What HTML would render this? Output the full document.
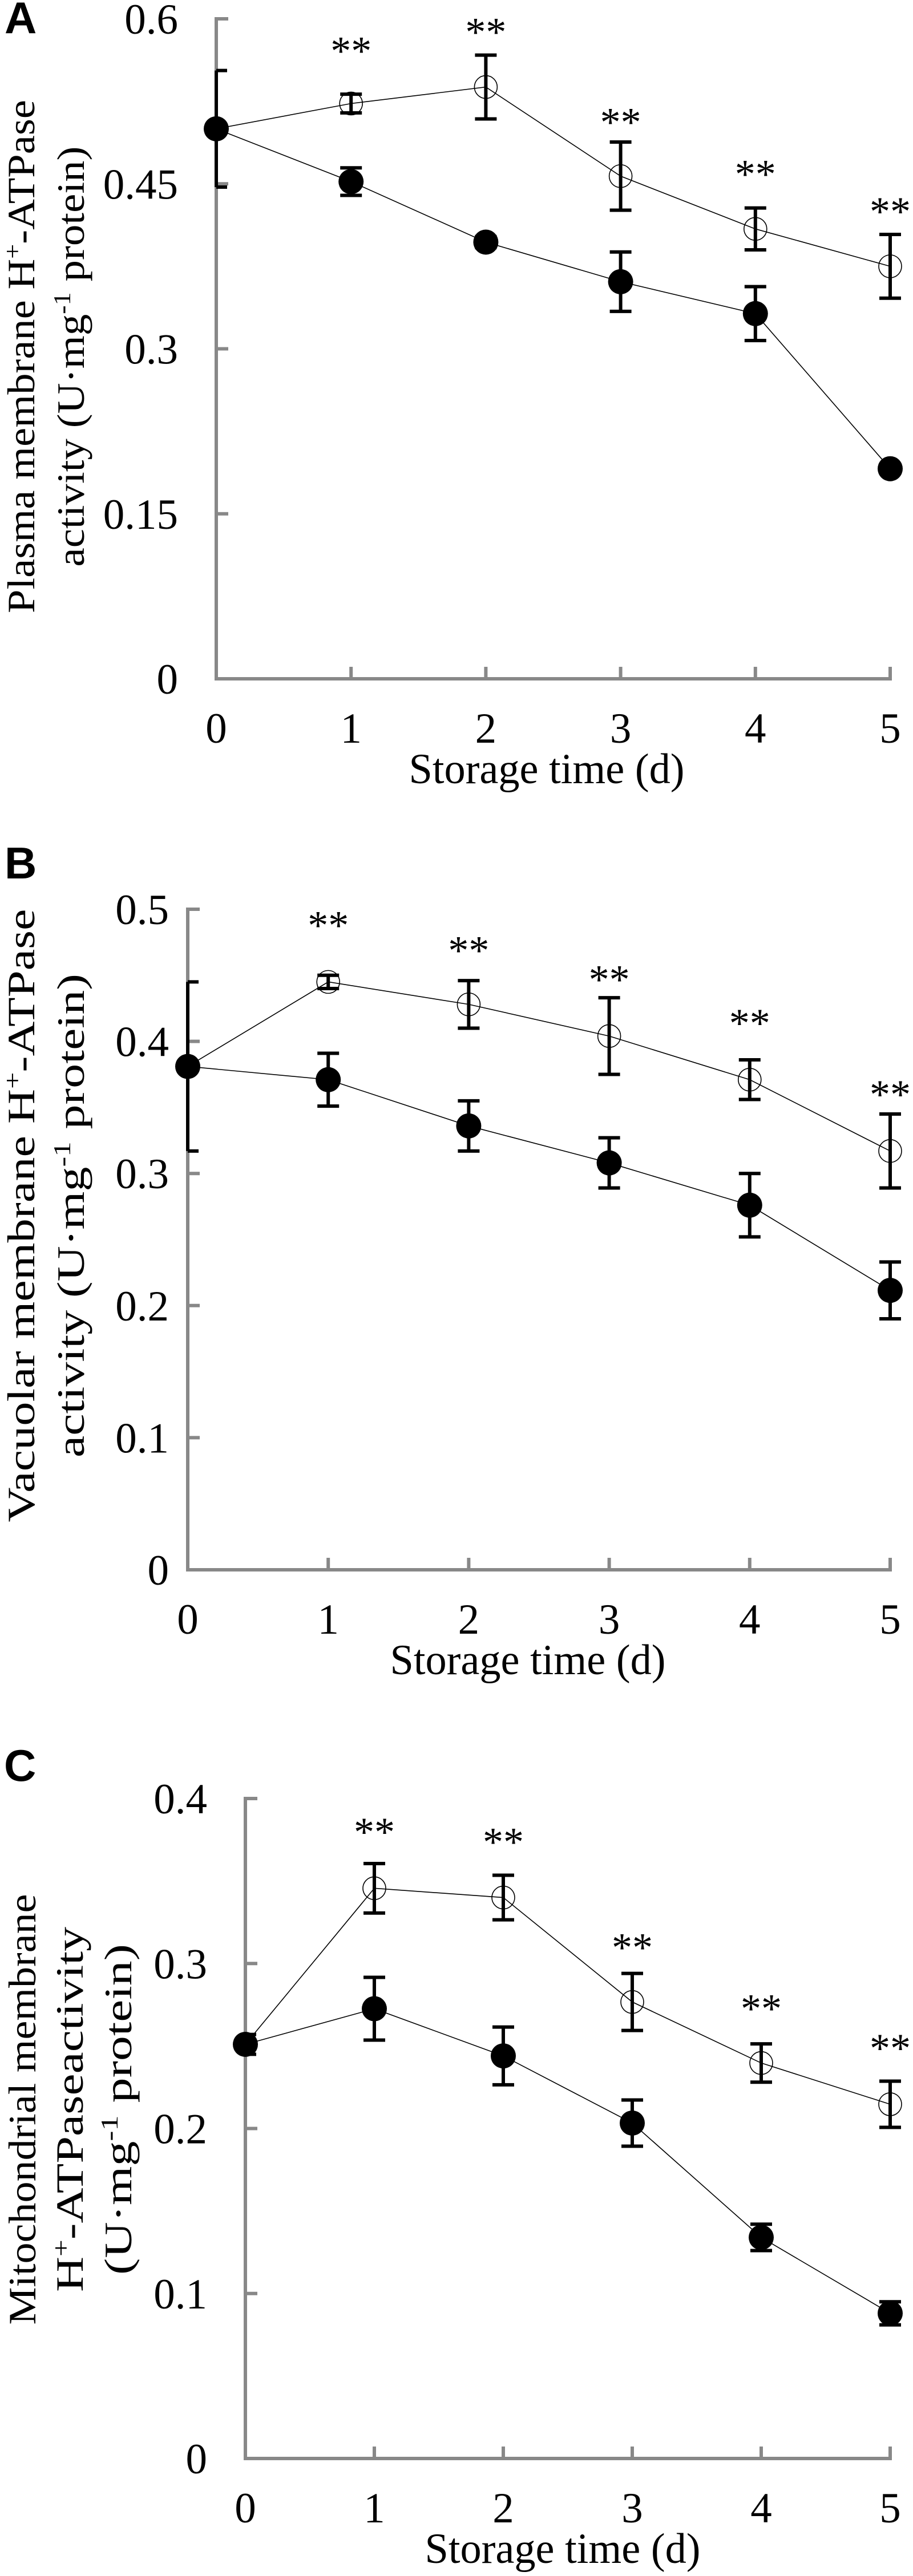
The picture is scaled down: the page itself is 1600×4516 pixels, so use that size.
<!DOCTYPE html>
<html><head><meta charset="utf-8"><style>
html,body{margin:0;padding:0;background:#fff}
svg{display:block}
text{font-family:"Liberation Serif","Times New Roman",serif;fill:#000}
.lab{font-family:"Liberation Sans",sans-serif;font-weight:bold}
</style></head><body>
<svg id="fig" width="1600" height="4516" viewBox="0 0 1600 4516"></svg>
<script>
const days = [0,1,2,3,4,5];
const xTickLabels = ["0","1","2","3","4","5"];

const aTicks = [0,0.15,0.3,0.45,0.6];
const aTickLabels = ["0","0.15","0.3","0.45","0.6"];
const aOpen = [0.5,0.523,0.538,0.457,0.409,0.375];
const aOpenErr = [0.053,0.0085,0.029,0.031,0.019,0.029];
const aFilled = [0.5,0.452,0.397,0.361,0.332,0.191];
const aFilledErr = [0,0.0125,0.005,0.027,0.0245,0.004];
const aStars = [null,0.576,0.593,0.511,0.464,0.430];

const bTicks = [0,0.1,0.2,0.3,0.4,0.5];
const bTickLabels = ["0","0.1","0.2","0.3","0.4","0.5"];
const bOpen = [0.381,0.445,0.428,0.404,0.371,0.317];
const bOpenErr = [0.064,0.005,0.018,0.029,0.015,0.028];
const bFilled = [0.381,0.371,0.336,0.308,0.276,0.2115];
const bFilledErr = [0,0.02,0.019,0.019,0.024,0.0215];
const bStars = [null,0.492,0.473,0.451,0.418,0.364];

const cTicks = [0,0.1,0.2,0.3,0.4];
const cTickLabels = ["0","0.1","0.2","0.3","0.4"];
const cOpen = [0.251,0.3456,0.340,0.2767,0.2397,0.2147];
const cOpenErr = [0,0.015,0.0135,0.0173,0.0116,0.014];
const cFilled = [0.251,0.2726,0.244,0.2033,0.134,0.088];
const cFilledErr = [0.006,0.019,0.0175,0.014,0.008,0.007];
const cStars = [null,0.383,0.377,0.313,0.276,0.252];

const NS="http://www.w3.org/2000/svg";
const svg=document.getElementById('fig');
function mk(tag,attrs,parent){const e=document.createElementNS(NS,tag);for(const k in attrs)e.setAttribute(k,attrs[k]);(parent||svg).appendChild(e);return e;}

function panel(cfg){
  const g=mk('g',{});
  
  
  const X=d=>cfg.x0+(cfg.x5-cfg.x0)*d/5;
  const Y=v=>cfg.yBot-(cfg.yBot-cfg.yTop)*v/cfg.vMax;
  const L=mk('text',{x:cfg.lx,y:cfg.ly,'font-size':78,class:'lab'},g);L.textContent=cfg.id.toUpperCase();
  
  
  const ax=mk('g',{stroke:'#888','stroke-width':6,fill:'none'},g);
  
  
  mk('line',{x1:cfg.x0,y1:cfg.yTop-3,x2:cfg.x0,y2:cfg.yBot+3},ax);
  mk('line',{x1:cfg.x0-3,y1:cfg.yBot,x2:cfg.x5+3,y2:cfg.yBot},ax);
  cfg.ticks.forEach((t,i)=>{
    mk('line',{x1:cfg.x0,y1:Y(t),x2:cfg.x0+21,y2:Y(t)},ax);
    const tl=mk('text',{x:cfg.tlx,y:Y(t)+26,'font-size':75,'text-anchor':'end'},g);tl.textContent=cfg.tickLabels[i];
    
    
  });
  days.forEach((d,i)=>{
    if(i>0) mk('line',{x1:X(d),y1:cfg.yBot,x2:X(d),y2:cfg.yBot-21},ax);
    const tl=mk('text',{x:X(d),y:cfg.yBot+112,'font-size':75,'text-anchor':'middle'},g);tl.textContent=xTickLabels[i];
    
    
  });
  const xt=mk('text',{x:cfg.xlx,y:cfg.yBot+183,'font-size':75,'text-anchor':'middle',textLength:483,lengthAdjust:'spacingAndGlyphs'},g);xt.textContent='Storage time (d)';
  
  
  const yt=mk('g',{},g);
  
  
  cfg.ylines.forEach(l=>{
    const t=mk('text',{x:0,y:0,'font-size':68,'text-anchor':'middle',transform:`translate(${l.x},${cfg.ylc}) rotate(-90)`,textLength:l.len,lengthAdjust:'spacingAndGlyphs'},yt);
    t.innerHTML=l.html;
  });
  const lineOf=vals=>vals.map((v,i)=>`${X(days[i])},${Y(v)}`).join(' ');
  const lo=mk('polyline',{points:lineOf(cfg.open),fill:'none',stroke:'#000','stroke-width':1.6},g);
  
  
  const lf=mk('polyline',{points:lineOf(cfg.filled),fill:'none',stroke:'#000','stroke-width':1.6},g);
  
  
  function err(vals,errs,name){
    vals.forEach((v,i)=>{
      if(!errs[i])return;
      const x=X(days[i]),y1=Y(v+errs[i]),y2=Y(v-errs[i]);
      const e=mk('g',{stroke:'#000','stroke-width':6},g);
      
      
      mk('line',{x1:x,y1:y1,x2:x,y2:y2},e);
      mk('line',{x1:x-(i?19:0),y1:y1,x2:x+19,y2:y1},e);
      mk('line',{x1:x-(i?19:0),y1:y2,x2:x+19,y2:y2},e);
    });
  }
  err(cfg.open,cfg.openErr,'control-error-bar');
  err(cfg.filled,cfg.filledErr,'treatment-error-bar');
  cfg.open.forEach((v,i)=>{
    const c=mk('circle',{cx:X(days[i]),cy:Y(v),r:20,fill:'none',stroke:'#000','stroke-width':1.6},g);
    
    
  });
  cfg.filled.forEach((v,i)=>{
    const c=mk('circle',{cx:X(days[i]),cy:Y(v),r:22,fill:'#000'},g);
    
    
  });
  cfg.stars.forEach((v,i)=>{
    if(v==null)return;
    const s=mk('text',{x:X(days[i]),y:Y(v)+34,'font-size':72,'text-anchor':'middle'},g);s.textContent='**';
    
    
  });
}

panel({id:'a',lx:8,ly:58,x0:379,x5:1560,yTop:33,yBot:1190,vMax:0.6,ticks:aTicks,tickLabels:aTickLabels,tlx:312,xlx:958,ylc:625,
  ylines:[{x:60,len:900,html:'Plasma membrane H<tspan font-size="42" dy="-24">+</tspan><tspan dy="24">-ATPase</tspan>'},
          {x:147,len:737,html:'activity (U·mg<tspan font-size="42" dy="-24">-1</tspan><tspan dy="24"> protein)</tspan>'}],
  open:aOpen,openErr:aOpenErr,filled:aFilled,filledErr:aFilledErr,stars:aStars});
panel({id:'b',lx:8,ly:1540,x0:329,x5:1560,yTop:1594,yBot:2752,vMax:0.5,ticks:bTicks,tickLabels:bTickLabels,tlx:296,xlx:925,ylc:2131,
  ylines:[{x:60,len:1075,html:'Vacuolar membrane H<tspan font-size="42" dy="-24">+</tspan><tspan dy="24">-ATPase</tspan>'},
          {x:147,len:848,html:'activity (U·mg<tspan font-size="42" dy="-24">-1</tspan><tspan dy="24"> protein)</tspan>'}],
  open:bOpen,openErr:bOpenErr,filled:bFilled,filledErr:bFilledErr,stars:bStars});
panel({id:'c',lx:7,ly:3122,x0:430,x5:1560,yTop:3153,yBot:4310,vMax:0.4,ticks:cTicks,tickLabels:cTickLabels,tlx:363,xlx:986,ylc:3698,
  ylines:[{x:62,len:755,html:'Mitochondrial membrane'},
          {x:145,len:640,html:'H<tspan font-size="42" dy="-24">+</tspan><tspan dy="24">-ATPaseactivity</tspan>'},
          {x:230,len:580,html:'(U·mg<tspan font-size="42" dy="-24">-1</tspan><tspan dy="24"> protein)</tspan>'}],
  open:cOpen,openErr:cOpenErr,filled:cFilled,filledErr:cFilledErr,stars:cStars});
</script>
</body></html>
